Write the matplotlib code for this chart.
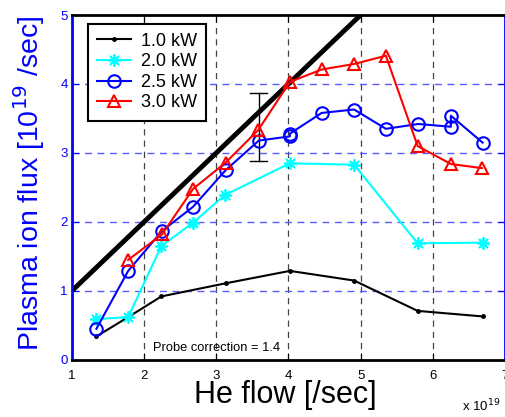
import numpy as np
import matplotlib.pyplot as plt

plt.rcParams['font.family'] = ['Liberation Sans', 'DejaVu Sans']

# data (He flow in 1e19 /sec, ion flux in 1e19 /sec)
x_1kw = [1.34, 1.78, 2.24, 3.13, 4.02, 4.91, 5.79, 6.69]
y_1kw = [0.34, 0.62, 0.92, 1.11, 1.29, 1.15, 0.71, 0.63]

x_2kw = [1.34, 1.78, 2.24, 2.68, 3.12, 4.02, 4.91, 5.79, 6.70]
y_2kw = [0.59, 0.62, 1.65, 1.99, 2.39, 2.85, 2.83, 1.69, 1.70]

x_25kw = [1.34, 1.78, 2.25, 2.68, 3.13, 3.59, 4.02, 4.02, 4.46, 4.91, 5.35, 5.80, 6.25, 6.25, 6.69]
y_25kw = [0.45, 1.29, 1.87, 2.22, 2.75, 3.18, 3.24, 3.28, 3.58, 3.63, 3.35, 3.42, 3.38, 3.54, 3.15]

x_3kw = [1.78, 2.25, 2.68, 3.13, 3.58, 4.02, 4.46, 4.91, 5.35, 5.79, 6.25, 6.68]
y_3kw = [1.45, 1.82, 2.48, 2.86, 3.33, 4.03, 4.21, 4.29, 4.41, 3.10, 2.84, 2.78]

ref_x = [1, 5]
ref_y = [1, 5]

err_x = 3.59
err_lo, err_hi = 2.89, 3.87

fig = plt.figure(figsize=(5.06, 4.17), dpi=100)
ax = fig.add_axes([0.142, 0.137, 0.856, 0.827])

# grid
for gx in [2, 3, 4, 5, 6]:
    ax.axvline(gx, color='#444444', ls=(0, (5, 4)), lw=0.9, zorder=0)
for gy in [1, 2, 3, 4]:
    ax.axhline(gy, color='#5a5aff', ls=(0, (5, 4)), lw=1.0, zorder=0)

ax.plot(ref_x, ref_y, color='black', lw=3.5)
ax.plot([err_x, err_x], [err_lo, err_hi], color='black', lw=1)
ax.plot([err_x - 0.12, err_x + 0.12], [err_lo, err_lo], color='black', lw=1)
ax.plot([err_x - 0.12, err_x + 0.12], [err_hi, err_hi], color='black', lw=1)

ax.plot(x_1kw, y_1kw, color='black', marker='.', ms=5, lw=1.5, label='1.0 kW')
ax.plot(x_2kw, y_2kw, color='cyan', marker=(8, 2, 0), ms=9, mew=1.3, lw=1.5, label='2.0 kW')
ax.plot(x_25kw, y_25kw, color='blue', marker='o', ms=9, mfc='none', mew=1.5, lw=1.5, label='2.5 kW')
ax.plot(x_3kw, y_3kw, color='red', marker='^', ms=9, mfc='none', mew=1.5, lw=1.5, label='3.0 kW')

ax.set_xlim(1, 7)
ax.set_ylim(0, 5)
ax.set_xticks([1, 2, 3, 4, 5, 6, 7])
ax.set_yticks([0, 1, 2, 3, 4, 5])

ax.tick_params(axis='both', direction='in', labelsize=9.5, top=True, right=True, length=5)
ax.tick_params(axis='y', colors='blue', labelcolor='blue', pad=3)
ax.tick_params(axis='x', pad=7)

for s in ['left', 'right']:
    ax.spines[s].set_color('blue')
    ax.spines[s].set_linewidth(2)
for s in ['top', 'bottom']:
    ax.spines[s].set_linewidth(2)

fig.text(0.564, 0.034, 'He flow [/sec]', fontsize=22, ha='center', va='baseline')
fig.text(0.058, 0.56, 'Plasma ion flux [10$^{19}$ /sec]', fontsize=20.5, color='blue',
         rotation=90, ha='center', va='center')

ax.text(3.0, 0.17, 'Probe correction = 1.4', fontsize=9.3, ha='center', va='center')
fig.text(0.988, 0.014, r'x 10$^{19}$', fontsize=9.5, ha='right', va='baseline')

leg = ax.legend(loc='upper left', bbox_to_anchor=(0.037, 0.975), fontsize=13,
                fancybox=False, edgecolor='black', framealpha=1, handlelength=1.9,
                handletextpad=0.55, borderpad=0.5, labelspacing=0.2, borderaxespad=0)
leg.get_frame().set_linewidth(1.5)

fig.savefig('out.png', dpi=100)
